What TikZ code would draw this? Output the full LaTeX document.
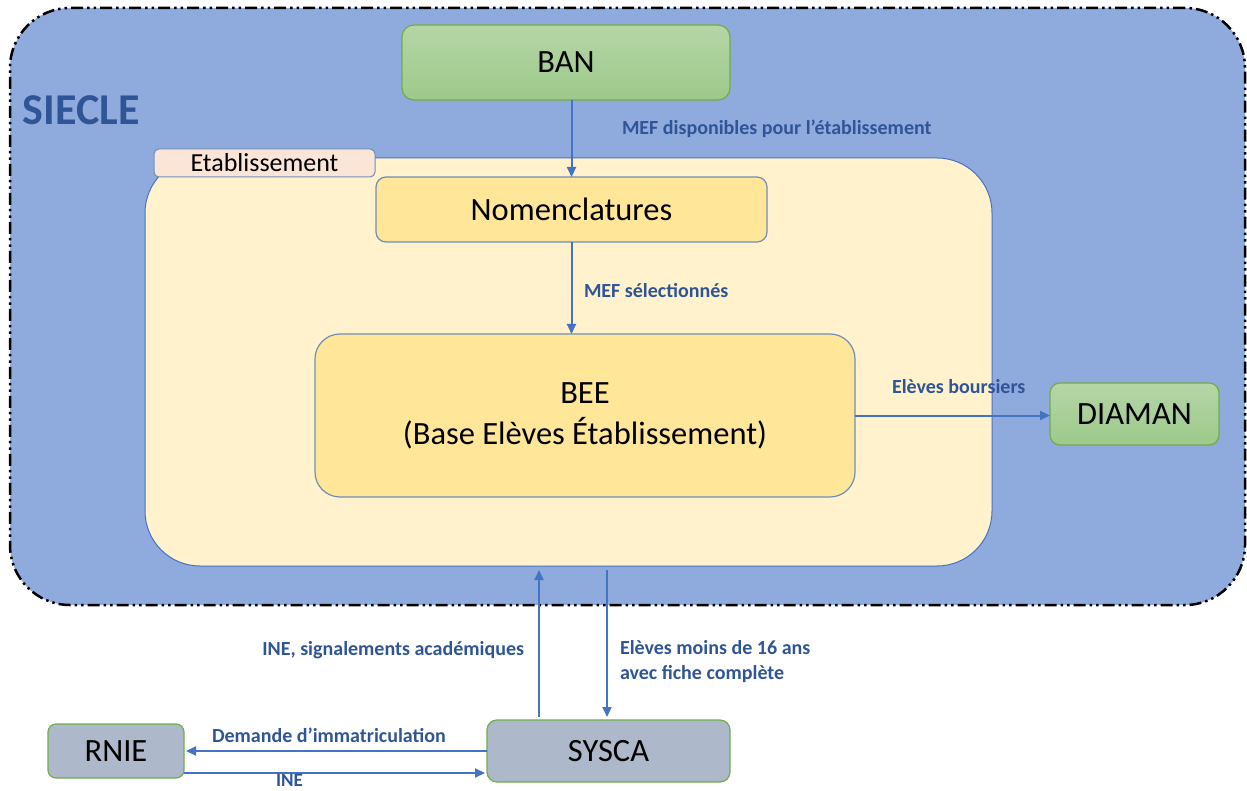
\documentclass[tikz,border=0pt]{standalone}
\usepackage{fontspec}
\setmainfont{Carlito}
\usetikzlibrary{arrows.meta}
\definecolor{siecle}{HTML}{8FAADC}
\definecolor{etab}{HTML}{FFF2CC}
\definecolor{yel}{HTML}{FFE699}
\definecolor{tabc}{HTML}{FBE5D6}
\definecolor{grayb}{HTML}{ADB9CA}
\definecolor{lab}{HTML}{2F5597}
\definecolor{arr}{HTML}{4472C4}
\definecolor{gtop}{HTML}{B5D6A7}
\definecolor{gbot}{HTML}{9DC98A}
\definecolor{gborder}{HTML}{70AD47}
\definecolor{bborder}{HTML}{6F8FB8}
\tikzset{
  every node/.style={inner sep=0pt, outer sep=0pt},
  box/.style={draw=bborder, line width=1.2pt, font=\fontsize{32.5}{36}\selectfont},
  greenbox/.style={box, draw=gborder, top color=gtop, bottom color=gbot},
  graybox/.style={box, draw=gborder, fill=grayb},
  lbl/.style={text=lab, font=\bfseries\fontsize{20}{25}\selectfont},
  flow/.style={draw=arr, line width=2pt, -{Triangle[length=10pt,width=9pt]}},
}
\begin{document}
\begin{tikzpicture}[x=1pt,y=-1pt]
\useasboundingbox (0,0) rectangle (1247,791);
\node[draw=black, line width=2.5pt, fill=siecle, rounded corners=60pt,
  dash pattern=on 12pt off 4pt on 2.5pt off 4pt on 2.5pt off 4pt,
  minimum width=1235pt, minimum height=597pt] (siecle) at (627.5,306.5) {};
\node[text=lab, font=\bfseries\fontsize{44}{46}\selectfont, anchor=west] (siecletxt) at (23,110) {SIECLE};
\node[draw=arr, line width=1pt, fill=etab, rounded corners=55pt,
  minimum width=847pt, minimum height=408pt] (etab) at (568.5,362) {};
\node[draw=bborder, line width=1pt, fill=tabc, rounded corners=5pt,
  minimum width=221pt, minimum height=28pt, font=\fontsize{26}{28}\selectfont] (tab) at (264.5,163) {Etablissement};
\node[greenbox, rounded corners=12pt, minimum width=328pt, minimum height=75pt] (ban) at (566,62.5) {BAN};
\node[box, fill=yel, rounded corners=10pt, minimum width=391pt, minimum height=65pt] (nom) at (571.5,209.5) {Nomenclatures};
\node[box, fill=yel, rounded corners=25pt, minimum width=540pt, minimum height=163pt, align=center,
  font=\fontsize{32.5}{41}\selectfont] (bee) at (585,415.5) {BEE\\(Base Elèves Établissement)};
\node[greenbox, rounded corners=10pt, minimum width=169pt, minimum height=62pt] (diaman) at (1134.5,414) {DIAMAN};
\node[graybox, rounded corners=10pt, minimum width=243pt, minimum height=62pt] (sysca) at (608.5,751) {SYSCA};
\node[graybox, rounded corners=8pt, minimum width=136pt, minimum height=54pt] (rnie) at (116,751) {RNIE};

\draw[flow] (ban.south -| nom.north) -- (nom.north);
\draw[flow] (nom.south) -- (nom.south |- bee.north);
\draw[flow] (bee.east) -- (bee.east -| diaman.west);
\draw[flow, shorten <=3pt, shorten >=4pt] ([xshift=-69.5pt]sysca.north) -- ([xshift=-69.5pt]sysca.north |- etab.south);
\draw[flow, shorten <=4pt, shorten >=3pt] ([xshift=-1.5pt]sysca.north |- etab.south) -- ([xshift=-1.5pt]sysca.north);
\draw[flow, shorten >=2pt] (sysca.west) -- (rnie.east);
\draw[flow, shorten >=2pt] ([yshift=-22pt]rnie.east) -- ([yshift=-22pt]rnie.east -| sysca.west);

\node[lbl, anchor=west] (l1) at (622,129) {MEF disponibles pour l’établissement};
\node[lbl, anchor=west] (l2) at (584,291) {MEF sélectionnés};
\node[lbl, anchor=west] (l3) at (892,387) {Elèves boursiers};
\node[lbl, anchor=east] (l4) at (524,650) {INE, signalements académiques};
\node[lbl, anchor=west, align=left] (l5) at (620,662) {Elèves moins de 16 ans\\avec fiche complète};
\node[lbl, anchor=west] (l6) at (212,735) {Demande d’immatriculation};
\node[lbl, anchor=base west, font=\bfseries\fontsize{19}{22}\selectfont] (l7) at (276,786.5) {INE};
\end{tikzpicture}
\end{document}
